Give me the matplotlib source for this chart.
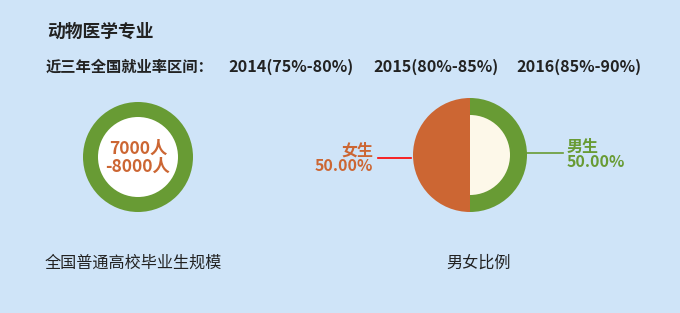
import matplotlib
matplotlib.use("Agg")
import matplotlib.pyplot as plt

plt.rcParams['font.family'] = ['Noto Sans CJK SC', 'DejaVu Sans']

# data
major = "动物医学专业"
rate_title = "近三年全国就业率区间："
years = ["2014", "2015", "2016"]
rate_ranges = ["75%-80%", "80%-85%", "85%-90%"]
scale_text = ["7000人", "-8000人"]
scale_caption = "全国普通高校毕业生规模"
gender_caption = "男女比例"
gender_labels = ["女生", "男生"]
gender_share = [50.0, 50.0]

bg = "#cfe4f8"
green = "#689b34"
orange = "#cc6633"
cream = "#fdf8e9"
dark = "#222222"

W, H = 680, 313
fig = plt.figure(figsize=(W / 100, H / 100), dpi=100, facecolor=bg)

# canvas in pixel coordinates (y down)
ax = fig.add_axes([0, 0, 1, 1])
ax.set_xlim(0, W)
ax.set_ylim(H, 0)
ax.axis("off")


def pie_axes(cx, cy, r):
    return fig.add_axes([(cx - r) / W, (H - cy - r) / H, 2 * r / W, 2 * r / H])


# header
ax.text(47, 32, major, fontsize=12.8, fontweight="bold", color=dark, va="center")
ax.text(46, 67, rate_title, fontsize=11, fontweight="bold", color=dark, va="center")
for x0, y, rng in zip([228, 373, 516], years, rate_ranges):
    ax.text(x0, 67, f"{y}({rng})", fontsize=11.6, fontweight="bold", color=dark, va="center")

# graduate scale donut
a1 = pie_axes(138, 157, 55)
a1.pie([1], colors=[green], radius=1, startangle=90, wedgeprops=dict(linewidth=0))
a1.pie([1], colors=["white"], radius=40 / 55, startangle=90, wedgeprops=dict(linewidth=0))
a1.set_xlim(-1, 1)
a1.set_ylim(-1, 1)
a1.axis("off")
a1.text(0, 0.15, scale_text[0], ha="center", va="center", fontsize=12.5, fontweight="bold", color=orange)
a1.text(0, -0.17, scale_text[1], ha="center", va="center", fontsize=12.5, fontweight="bold", color=orange)

# gender pie
a2 = pie_axes(470, 155, 57)
a2.pie(gender_share, colors=[orange, green], radius=1, startangle=90, counterclock=True,
       wedgeprops=dict(linewidth=0))
a2.pie(gender_share, colors=["none", cream], radius=40 / 57, startangle=90, counterclock=True,
       wedgeprops=dict(linewidth=0))
a2.set_xlim(-1, 1)
a2.set_ylim(-1, 1)
a2.axis("off")

# leader lines and labels
ax.plot([378, 411], [158, 158], color="#ff0000", lw=1.2)
ax.text(373, 151, gender_labels[0], ha="right", va="center", fontsize=11.5, fontweight="bold", color=orange)
ax.text(373, 166, f"{gender_share[0]:.2f}%", ha="right", va="center", fontsize=11.5, fontweight="bold", color=orange)

ax.plot([527, 563], [153, 153], color=green, lw=1.2)
ax.text(567, 147, gender_labels[1], ha="left", va="center", fontsize=11.5, fontweight="bold", color=green)
ax.text(567, 162, f"{gender_share[1]:.2f}%", ha="left", va="center", fontsize=11.5, fontweight="bold", color=green)

# captions
ax.text(45, 263, scale_caption, fontsize=11.6, color=dark, va="center")
ax.text(479, 263, gender_caption, fontsize=11.6, color=dark, va="center", ha="center")

fig.savefig("out.png", dpi=100, facecolor=bg)
